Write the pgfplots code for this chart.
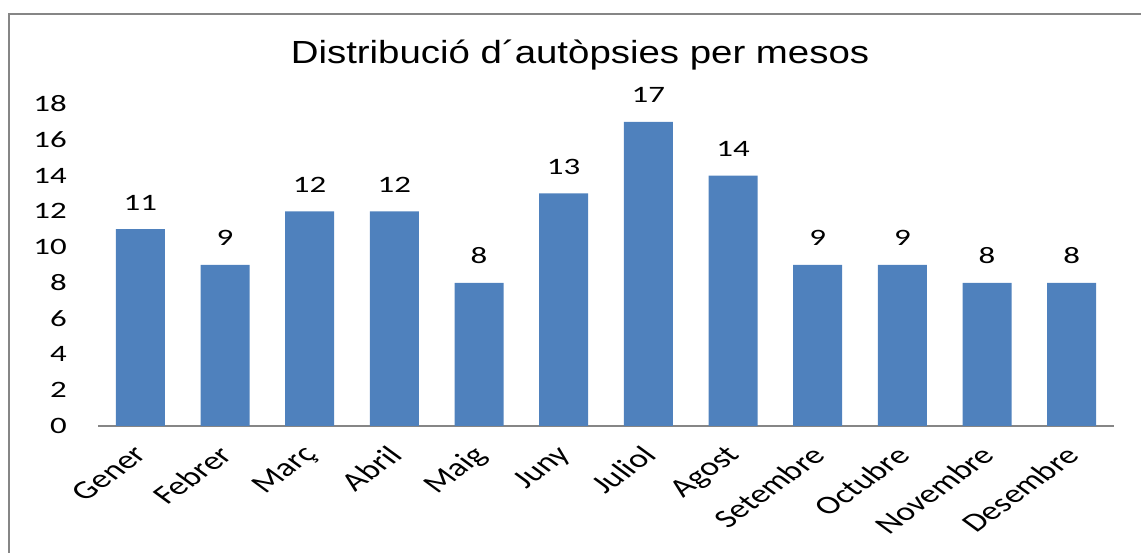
\documentclass[border=0pt]{standalone}
\usepackage{pgfplots}
\pgfplotsset{compat=1.18}
\usepackage{fontspec}
\setmainfont{Carlito}[FakeStretch=1.4]
\newfontfamily\labfont{Carlito}
\newfontfamily\titlefont{Liberation Sans}[FakeStretch=1.2]
\definecolor{barblue}{HTML}{4F81BD}
\definecolor{framegray}{HTML}{868686}
\begin{document}
\begin{tikzpicture}[x=1pt,y=1pt]
\path[use as bounding box] (0,0) rectangle (1141,553);
\draw[framegray, line width=2.5pt] (9,-5) -- (9,539) -- (1150,539);
\node[font=\titlefont\fontsize{32}{36}\selectfont] at (580,498) {Distribució d´autòpsies per mesos};
\begin{axis}[
  at={(98pt,127pt)}, anchor=south west,
  scale only axis, width=1016pt, height=322pt,
  xmin=-0.5, xmax=11.5, ymin=0, ymax=18,
  ytick={0,2,...,18},
  xtick={0,...,11},
  xticklabels={Gener,Febrer,Març,Abril,Maig,Juny,Juliol,Agost,Setembre,Octubre,Novembre,Desembre},
  axis x line*=bottom, axis y line*=left,
  y axis line style={draw=none},
  x axis line style={draw=framegray, line width=2pt, -},
  major tick length=0pt,
  tick style={draw=none},
  /pgf/number format/assume math mode=true,
  yticklabel style={font=\fontsize{23.5}{28}\selectfont, anchor=east, inner sep=0pt, xshift=-31pt},
  xticklabel style={font=\labfont\fontsize{26}{30}\selectfont, xshift=-8pt, yshift=-18pt, xscale=1.37, rotate=45, anchor=north east, inner sep=0pt},
  ybar, bar width=49pt,
  nodes near coords,
  every node near coord/.append style={font=\fontsize{23.5}{28}\selectfont, anchor=south, inner sep=0pt, yshift=19pt},
  clip=false,
]
\addplot[fill=barblue, draw=none] coordinates {
(0,11) (1,9) (2,12) (3,12) (4,8) (5,13) (6,17) (7,14) (8,9) (9,9) (10,8) (11,8)};
\end{axis}
\end{tikzpicture}
\end{document}
